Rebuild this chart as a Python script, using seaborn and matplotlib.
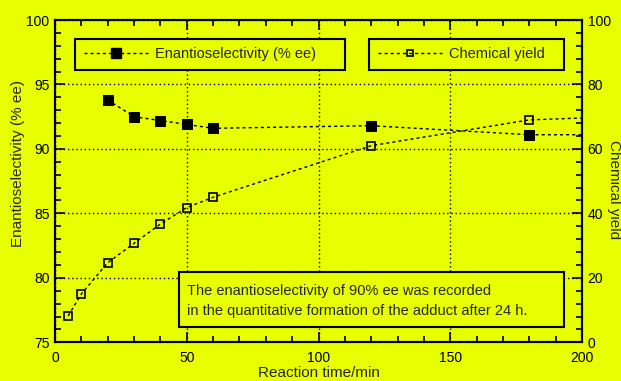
import matplotlib
matplotlib.use("Agg")
import matplotlib.pyplot as plt
import seaborn as sns
from matplotlib.lines import Line2D
from matplotlib.patches import Rectangle
from matplotlib.ticker import MultipleLocator

# enantioselectivity (% ee), last point is where the line runs out to the axis
ee_time = [20, 30, 40, 50, 60, 120, 180, 200]
ee_values = [93.8, 92.5, 92.2, 91.9, 91.6, 91.8, 91.1, 91.1]

# chemical yield (%)
yield_time = [5, 10, 20, 30, 40, 50, 60, 120, 180, 200]
yield_values = [8.2, 15.0, 24.7, 30.7, 36.7, 41.8, 45.0, 61.0, 69.0, 69.6]

note_lines = ["The enantioselectivity of 90% ee was recorded",
              "in the quantitative formation of the adduct after 24 h."]

bg = "#e8ff00"
sns.set_style("ticks")
plt.rcParams["font.family"] = ["Liberation Sans", "DejaVu Sans"]

fig = plt.figure(figsize=(6.21, 3.81), dpi=100, facecolor=bg)
ax = fig.add_axes([55 / 621, 1 - 342.3 / 381, 527 / 621, 322.3 / 381])
ax.set_facecolor(bg)
ax2 = ax.twinx()

dash = (2.2, 2.2)
sns.lineplot(x=ee_time, y=ee_values, ax=ax, color="black", lw=1.0,
             linestyle=(0, dash), marker="s", markersize=7,
             markerfacecolor="black", markeredgecolor="black",
             markevery=list(range(len(ee_time) - 1)))
sns.lineplot(x=yield_time, y=yield_values, ax=ax2, color="black", lw=1.0,
             linestyle=(0, dash), marker="s", markersize=6,
             markerfacecolor="none", markeredgecolor="black", markeredgewidth=1.2,
             markevery=list(range(len(yield_time) - 1)))

ax.set_xlim(0, 200)
ax.set_ylim(75, 100)
ax2.set_ylim(0, 100)

ax.xaxis.set_major_locator(MultipleLocator(50))
ax.xaxis.set_minor_locator(MultipleLocator(10))
ax.yaxis.set_major_locator(MultipleLocator(5))
ax.yaxis.set_minor_locator(MultipleLocator(1))
ax2.yaxis.set_major_locator(MultipleLocator(20))
ax2.yaxis.set_minor_locator(MultipleLocator(4))

ax.grid(True, which="major", color="black", linestyle=(0, (1, 2)), lw=1.0)
for a in (ax, ax2):
    a.tick_params(which="both", direction="in", color="black", width=1.2,
                  labelsize=10, labelcolor="black", pad=4)
    a.tick_params(which="major", length=7)
    a.tick_params(which="minor", length=4)
    for s in a.spines.values():
        s.set_linewidth(1.5)
        s.set_color("black")
ax.tick_params(which="both", top=True)
ax.tick_params(axis="x", pad=6)

ax.set_xlabel("Reaction time/min", fontsize=11, labelpad=1)
ax.set_ylabel("Enantioselectivity (% ee)", fontsize=11, va="center")
ax.yaxis.set_label_coords(-0.070, 0.556)
ax2.set_ylabel("Chemical yield", fontsize=11, rotation=270, va="center")
ax2.yaxis.set_label_coords(1.061, 0.473)

# two separate legend boxes
h1 = Line2D([], [], color="black", lw=1.0, linestyle=(0, dash), marker="s",
            markersize=7, markerfacecolor="black")
h2 = Line2D([], [], color="black", lw=1.0, linestyle=(0, dash), marker="s",
            markersize=5, markerfacecolor="none", markeredgewidth=1.2)
leg_kw = dict(loc="center left", mode="expand", frameon=True, fancybox=False,
              edgecolor="black", facecolor=bg, framealpha=1, fontsize=10.5,
              handlelength=4.4, handletextpad=0.5, borderpad=0.6, borderaxespad=0)
leg1 = ax2.legend([h1], ["Enantioselectivity (% ee)"],
                  bbox_to_anchor=(0.038, 0.839, 0.512, 0.108), **leg_kw)
leg1.get_frame().set_linewidth(1.5)
ax2.add_artist(leg1)
leg2 = ax2.legend([h2], ["Chemical yield"],
                  bbox_to_anchor=(0.596, 0.839, 0.370, 0.108), **leg_kw)
leg2.get_frame().set_linewidth(1.5)

# note box
ax2.add_patch(Rectangle((0.235, 0.0475), 0.731, 0.171, transform=ax2.transAxes,
                        facecolor=bg, edgecolor="black", lw=1.5, zorder=5))
ax2.text(0.25, 0.159, note_lines[0], transform=ax2.transAxes, fontsize=10.5,
         va="center", zorder=6)
ax2.text(0.25, 0.097, note_lines[1], transform=ax2.transAxes, fontsize=10.5,
         va="center", zorder=6)

fig.savefig("out.png", dpi=100, facecolor=bg)
